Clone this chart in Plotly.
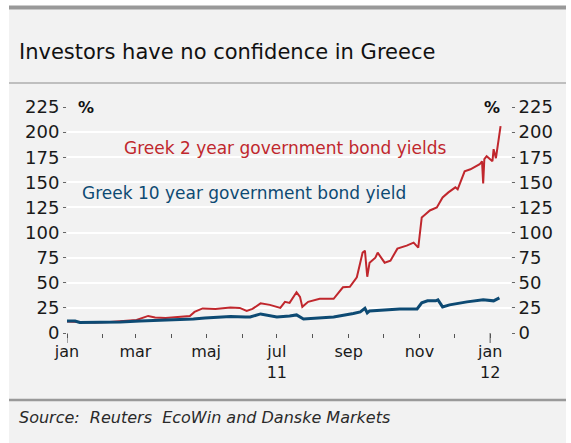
import plotly.graph_objects as go

# ---- data ----
dates_2y = ["2011-01-01","2011-01-12","2011-01-25","2011-02-07","2011-02-20","2011-03-02","2011-03-12",
            "2011-03-18","2011-03-27","2011-04-08","2011-04-17","2011-04-21","2011-04-28","2011-05-09",
            "2011-05-22","2011-05-30","2011-06-05","2011-06-10","2011-06-17","2011-06-25","2011-07-04",
            "2011-07-08","2011-07-12","2011-07-18","2011-07-21","2011-07-23","2011-07-28","2011-08-07",
            "2011-08-19","2011-08-27","2011-09-02","2011-09-08","2011-09-13","2011-09-15","2011-09-17",
            "2011-09-19","2011-09-24","2011-09-26","2011-10-02","2011-10-07","2011-10-13","2011-10-21",
            "2011-10-27","2011-10-31","2011-11-03","2011-11-06","2011-11-10","2011-11-16","2011-11-21",
            "2011-11-26","2011-12-02","2011-12-04","2011-12-10","2011-12-15","2011-12-23","2011-12-25",
            "2011-12-26","2011-12-27","2011-12-29","2012-01-03","2012-01-04","2012-01-06","2012-01-10"]
yield_2y = [11.5, 11, 10.5, 11, 12, 13, 17,
            15.5, 15, 16, 17, 21, 24.5, 24,
            25.5, 25, 22, 24, 29.5, 28, 25,
            31, 30, 40.5, 36, 26, 31, 34,
            34, 45.5, 46, 55.5, 80, 82, 56,
            70, 75, 80, 70, 72, 84, 87,
            90, 85, 115, 118, 122, 125, 135,
            140, 145, 143, 161, 163, 168, 171,
            149, 173, 176, 171, 183, 174, 206]

dates_10y = ["2011-01-01","2011-01-08","2011-01-12","2011-01-29","2011-02-16","2011-03-05","2011-03-22",
             "2011-04-08","2011-04-20","2011-04-30","2011-05-22","2011-06-04","2011-06-08","2011-06-17",
             "2011-07-01","2011-07-12","2011-07-18","2011-07-24","2011-08-19","2011-09-05","2011-09-11",
             "2011-09-15","2011-09-17","2011-09-19","2011-10-01","2011-10-15","2011-10-30","2011-11-03",
             "2011-11-08","2011-11-15","2011-11-17","2011-11-21","2011-11-27","2011-12-12","2011-12-26",
             "2012-01-04","2012-01-09"]
yield_10y = [12, 12, 10.5, 10.5, 11, 12, 12.5,
             13, 14, 15, 16.5, 16, 16, 19,
             16, 17, 18, 14, 16, 19.5, 21,
             24.5, 20, 22, 23, 24, 24, 30,
             32, 32, 33, 26, 28, 31, 33,
             32, 35]

month_ticks = ["2011-01-01","2011-02-01","2011-03-01","2011-04-01","2011-05-01","2011-06-01","2011-07-01",
               "2011-08-01","2011-09-01","2011-10-01","2011-11-01","2011-12-01","2012-01-01"]
month_labels = ["jan","","mar","","maj","","jul<br>11","","sep","","nov","","jan<br>12"]
y_ticks = [0, 25, 50, 75, 100, 125, 150, 175, 200, 225]

RED = "#c0272d"
BLUE = "#0d4a73"
BG = "#f2f2f2"
FONT = "DejaVu Sans"
W, H = 571, 443
L, R, T, B = 67, 511, 107, 333  # plot area in pixels

def px(x):
    return (x - L) / (R - L)

def py(y):
    return (B - y) / (B - T)

fig = go.Figure()
fig.add_trace(go.Scatter(x=dates_2y, y=yield_2y, mode="lines",
                         line=dict(color=RED, width=2), hoverinfo="skip", yaxis="y"))
fig.add_trace(go.Scatter(x=dates_10y, y=yield_10y, mode="lines",
                         line=dict(color=BLUE, width=3), hoverinfo="skip", yaxis="y2"))

shapes = [
    dict(type="rect", xref="paper", yref="paper", x0=px(9), x1=px(566), y0=py(443), y1=py(8),
         fillcolor=BG, line=dict(width=0), layer="below"),
    dict(type="rect", xref="paper", yref="paper", x0=px(9), x1=px(566), y0=py(9.5), y1=py(5.5),
         fillcolor="#999999", line=dict(width=0), layer="below"),
    dict(type="line", xref="paper", yref="paper", x0=px(9), x1=px(566), y0=py(83), y1=py(83),
         line=dict(color="#8c8c8c", width=1.2), layer="below"),
    dict(type="line", xref="paper", yref="paper", x0=px(9), x1=px(566), y0=py(400), y1=py(400),
         line=dict(color="#999999", width=2.5), layer="below"),
]
for d in ["2011-01-01", "2012-01-01"]:
    shapes.append(dict(type="line", xref="x", yref="paper", x0=d, x1=d, y0=0, y1=-(10 / (B - T)),
                       line=dict(color="#555555", width=1)))

annotations = [
    dict(text="Investors have no confidence in Greece", xref="paper", yref="paper",
         x=px(17), y=py(52), xanchor="left", yanchor="middle", showarrow=False,
         font=dict(family=FONT, size=21, color="#111111")),
    dict(text="Greek 2 year government bond yields", xref="paper", yref="paper",
         x=px(285), y=py(148), xanchor="center", yanchor="middle", showarrow=False,
         font=dict(family=FONT, size=17, color=RED)),
    dict(text="Greek 10 year government bond yield", xref="paper", yref="paper",
         x=px(244), y=py(193), xanchor="center", yanchor="middle", showarrow=False,
         font=dict(family=FONT, size=17, color=BLUE)),
    dict(text="<b>%</b>", xref="paper", yref="paper", x=px(86), y=py(107),
         xanchor="center", yanchor="middle", showarrow=False, bgcolor=BG,
         font=dict(family=FONT, size=16, color="#111111")),
    dict(text="<b>%</b>", xref="paper", yref="paper", x=px(492), y=py(107),
         xanchor="center", yanchor="middle", showarrow=False, bgcolor=BG,
         font=dict(family=FONT, size=16, color="#111111")),
    dict(text="<i>Source:  Reuters  EcoWin and Danske Markets</i>", xref="paper", yref="paper",
         x=px(17), y=py(417), xanchor="left", yanchor="middle", showarrow=False,
         font=dict(family=FONT, size=16, color="#2a2a2a")),
]

fig.update_layout(
    width=W, height=H,
    margin=dict(l=L, r=W - R, t=T, b=H - B, pad=0),
    paper_bgcolor="white", plot_bgcolor=BG,
    showlegend=False,
    shapes=shapes, annotations=annotations,
    xaxis=dict(type="date", range=["2011-01-01", "2012-01-19"],
               tickvals=month_ticks, ticktext=month_labels,
               ticks="outside", ticklen=4, tickcolor="#555555", tickwidth=1,
               showgrid=False, zeroline=False, showline=False,
               tickfont=dict(family=FONT, size=16, color="#1a1a1a")),
    yaxis=dict(range=[0, 225], tickvals=y_ticks, ticks="outside", ticklen=3,
               tickcolor="#666666", showgrid=True, gridcolor="white", gridwidth=2,
               zeroline=False, showline=False,
               tickfont=dict(family=FONT, size=18, color="#1a1a1a")),
    yaxis2=dict(range=[0, 225], tickvals=y_ticks, overlaying="y", side="right",
                ticks="outside", ticklen=3, tickcolor="#666666", showgrid=False,
                zeroline=False, showline=False,
                tickfont=dict(family=FONT, size=18, color="#1a1a1a")),
)

fig.write_html("out.html")
